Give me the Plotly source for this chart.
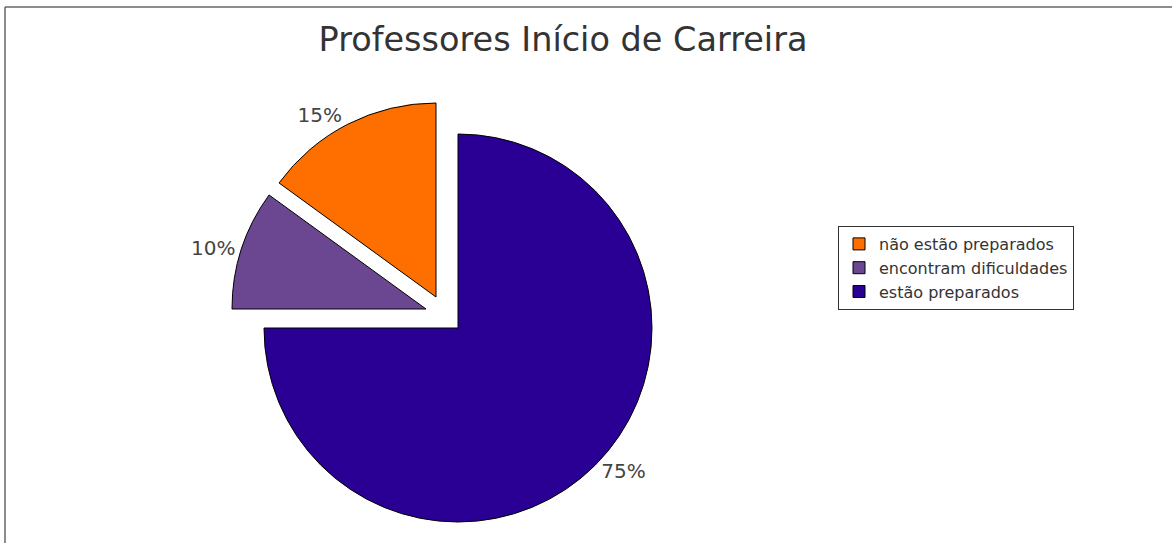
import plotly.graph_objects as go

# data
labels = ["estão preparados", "encontram dificuldades", "não estão preparados"]
values = [75, 10, 15]
colors = ["#2a0094", "#6b4791", "#ff6f00"]
legend_order = [2, 1, 0]

# layout helpers
W, H = 1172, 543
RADIUS = 194
# pixel centre of each slice (exploded slices are shifted)
CENTERS = [(458, 328), (426, 309), (436, 297)]
FONT = "DejaVu Sans"

total = sum(values)
pct_text = [f"{round(v / total * 100)}%" for v in values]


def domain_at(cx, cy, r):
    return {
        "x": [(cx - r) / W, (cx + r) / W],
        "y": [1 - (cy + r) / H, 1 - (cy - r) / H],
    }


fig = go.Figure()

# legend holder: tiny pie hidden beneath the big slice
fig.add_trace(
    go.Pie(
        labels=[labels[i] for i in legend_order],
        values=[values[i] for i in legend_order],
        marker={"colors": [colors[i] for i in legend_order],
                "line": {"color": "black", "width": 1}},
        sort=False,
        textinfo="none",
        hoverinfo="skip",
        domain=domain_at(560, 430, 3),
        showlegend=True,
    )
)

for i, (cx, cy) in enumerate(CENTERS):
    fig.add_trace(
        go.Pie(
            labels=labels,
            values=values,
            sort=False,
            direction="clockwise",
            rotation=0,
            marker={
                "colors": [c if j == i else "rgba(0,0,0,0)" for j, c in enumerate(colors)],
                "line": {"color": "black",
                         "width": [1 if j == i else 0 for j in range(len(values))]},
            },
            text=[t if j == i else "" for j, t in enumerate(pct_text)],
            textinfo="text",
            textposition="outside",
            outsidetextfont={"family": FONT, "size": 20, "color": "#444444"},
            domain=domain_at(cx, cy, RADIUS),
            showlegend=False,
            hoverinfo="label+percent",
        )
    )

fig.update_layout(
    width=W,
    height=H,
    autosize=False,
    paper_bgcolor="white",
    plot_bgcolor="white",
    margin={"l": 0, "r": 0, "t": 0, "b": 0},
    font={"family": FONT, "color": "#333333"},
    title={
        "text": "Professores Início de Carreira",
        "font": {"family": FONT, "size": 33.5, "color": "#333333"},
        "x": 563 / W,
        "xanchor": "center",
        "y": 1 - 39 / H,
        "yanchor": "middle",
        "xref": "paper",
        "yref": "container",
    },
    legend={
        "x": 838 / W,
        "y": 1 - 226 / H,
        "xanchor": "left",
        "yanchor": "top",
        "bgcolor": "white",
        "bordercolor": "#333333",
        "borderwidth": 1,
        "font": {"family": FONT, "size": 16, "color": "#333333"},
        "traceorder": "normal",
    },
    shapes=[
        {"type": "line", "xref": "paper", "yref": "paper",
         "x0": 5 / W, "x1": 1, "y0": 1 - 7 / H, "y1": 1 - 7 / H,
         "line": {"color": "#666666", "width": 1.5}},
        {"type": "line", "xref": "paper", "yref": "paper",
         "x0": 5 / W, "x1": 5 / W, "y0": 0, "y1": 1 - 7 / H,
         "line": {"color": "#666666", "width": 1.5}},
    ],
)

# drop the default page margin so the figure sits at the window origin
fig.write_html(
    "out.html",
    config={"displayModeBar": False},
    post_script="document.body.style.margin = '0';",
)
